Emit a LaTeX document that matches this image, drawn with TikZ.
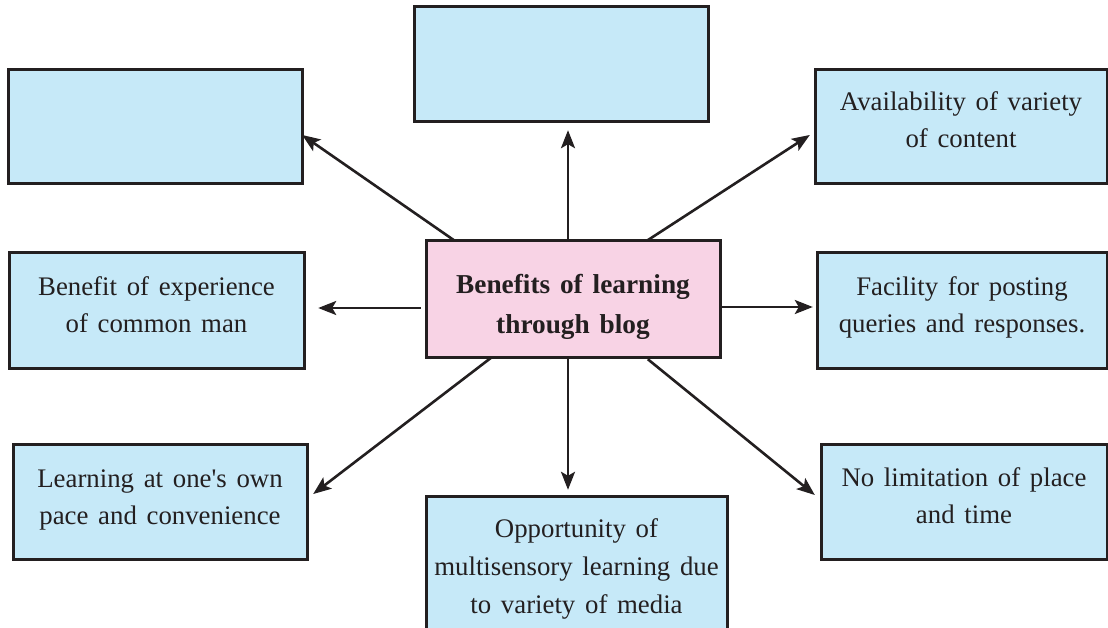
\documentclass[tikz,border=0pt]{standalone}
\usepackage{fontspec}
\setmainfont[WordSpace=1.45]{Liberation Serif}
\usetikzlibrary{arrows.meta,calc}
\definecolor{boxblue}{HTML}{C6E9F8}
\definecolor{boxpink}{HTML}{F8D3E5}
\definecolor{ink}{HTML}{231F20}
\begin{document}
\begin{tikzpicture}[x=1pt,y=-1pt,
  bluebox/.style={draw=ink,line width=3pt,fill=boxblue,rectangle,inner sep=0pt},
  pinkbox/.style={draw=ink,line width=3pt,fill=boxpink,rectangle,inner sep=0pt},
  boxtext/.style={align=center,inner sep=0pt,text=ink,font=\fontsize{26.8}{37}\selectfont},
  maintext/.style={align=center,inner sep=0pt,text=ink,font=\fontsize{27.3}{40}\selectfont\bfseries},
  conn/.style={draw=ink,line width=2.6pt,-{Stealth[length=18pt,width=14pt,inset=4pt]}}]
\clip (0,0) rectangle (1108,628);
\fill[white] (0,0) rectangle (1108,628);
% boxes
\path[bluebox] (8,70) rectangle (302,184);
\node[minimum width=294pt,minimum height=114pt,inner sep=0pt] (tl) at (155,127) {};
\path[bluebox] (414,7) rectangle (708,122);
\node[minimum width=294pt,minimum height=115pt,inner sep=0pt] (t) at (561,64.5) {};
\path[bluebox] (815,70) rectangle (1107,184);
\node[minimum width=292pt,minimum height=114pt,inner sep=0pt] (tr) at (961,127) {};
\path[bluebox] (9,253) rectangle (304,368);
\node[minimum width=295pt,minimum height=115pt,inner sep=0pt] (ml) at (156.5,310.5) {};
\path[pinkbox] (426,241) rectangle (720,357);
\node[minimum width=294pt,minimum height=116pt,inner sep=0pt] (c) at (573,299) {};
\path[bluebox] (817,253) rectangle (1107,368);
\node[minimum width=290pt,minimum height=115pt,inner sep=0pt] (mr) at (962,310.5) {};
\path[bluebox] (13,444) rectangle (307,559);
\node[minimum width=294pt,minimum height=115pt,inner sep=0pt] (bl) at (160,501.5) {};
\path[bluebox] (426,496) rectangle (727,650);
\node[minimum width=301pt,minimum height=154pt,inner sep=0pt] (bc) at (576.5,573) {};
\path[bluebox] (821,444) rectangle (1107,559);
\node[minimum width=286pt,minimum height=115pt,inner sep=0pt] (br) at (964,501.5) {};
% texts
\node[boxtext] (trt) at ($(tr.center)+(0,-7)$) {Availability of variety\\of content};
\node[boxtext] (mlt) at ($(ml.center)+(0,-6)$) {Benefit of experience\\of common man};
\node[maintext] (ct) at ($(c.center)+(0,8)$) {Benefits of learning\\through blog};
\node[boxtext] (mrt) at ($(mr.center)+(0,-3)$) {Facility for posting\\queries and responses.};
\node[boxtext] (blt) at ($(bl.center)+(0,-2)$) {Learning at one\textquotesingle s own\\pace and convenience};
\node[boxtext,font=\fontsize{26.8}{38}\selectfont] (bct) at (576.5,569) {Opportunity of\\multisensory learning due\\to variety of media};
\node[boxtext] (brt) at ($(br.center)+(0,-6)$) {No limitation of place\\and time};
% connectors
\draw[conn] ($(c.north west)+(29,0)$) -- ($(tl.east)+(0,8)$);
\draw[conn] ($(c.north)+(-5,0)$) -- ($(t.south)+(7,8)$);
\draw[conn] ($(c.north west)+(221,0)$) -- ($(tr.west)+(-5,8)$);
\draw[conn] ($(c.west)+(-5,9)$) -- ($(ml.east)+(14,-2.5)$);
\draw[conn] ($(c.east)+(2,8)$) -- ($(mr.west)+(-4,-3.5)$);
\draw[conn] ($(c.south west)+(66,0)$) -- ($(bl.east)+(6,-7.5)$);
\draw[conn] ($(c.south)+(-5,0)$) -- ($(bc.north)+(-8.5,-6)$);
\draw[conn] ($(c.south west)+(222,2)$) -- ($(br.west)+(-6,-6.5)$);
\end{tikzpicture}
\end{document}
